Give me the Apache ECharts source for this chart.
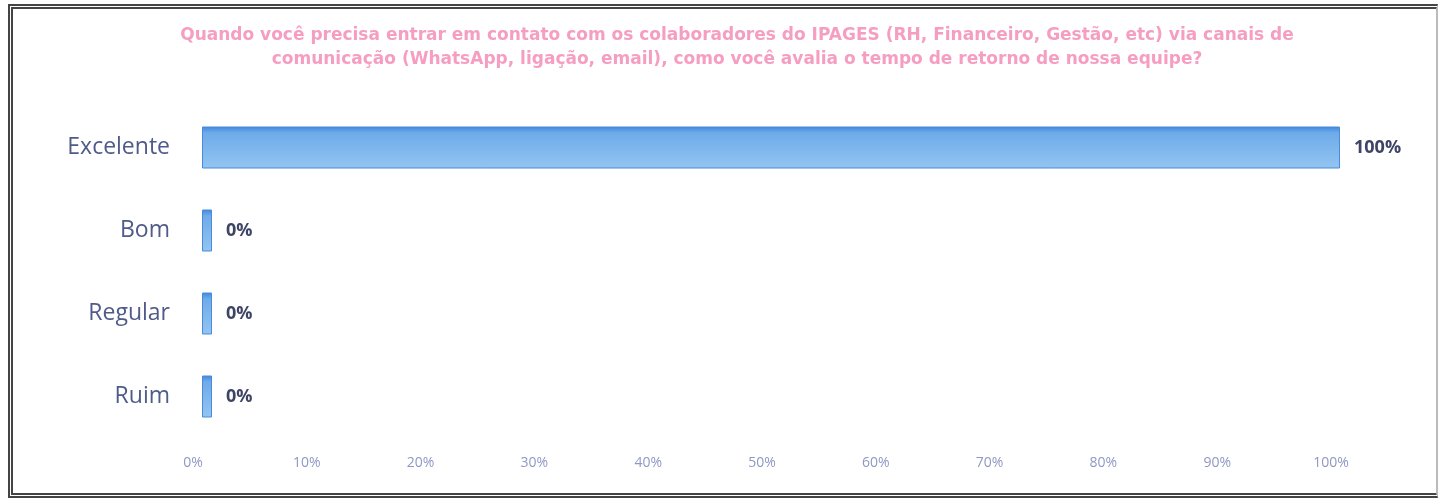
<!DOCTYPE html>
<html><head><meta charset="utf-8">
<script src="https://cdn.jsdelivr.net/npm/echarts@6/dist/echarts.min.js"></script>
<style>
html,body{margin:0;padding:0;background:#fff;}
#c{width:1442px;height:498px;position:absolute;left:0;top:0;}
#frame{position:absolute;left:8px;top:4px;width:1423px;height:484px;border:5px double #444;border-right:2px solid #bbb;pointer-events:none;}
</style></head>
<body>
<div id="c"></div>
<div id="frame"></div>
<script>
const categories = ['Excelente', 'Bom', 'Regular', 'Ruim'];
const values = [100, 0, 0, 0];
const xTicks = [0, 10, 20, 30, 40, 50, 60, 70, 80, 90, 100];
const titleLines = [
  'Quando você precisa entrar em contato com os colaboradores do IPAGES (RH, Financeiro, Gestão, etc) via canais de',
  'comunicação (WhatsApp, ligação, email), como você avalia o tempo de retorno de nossa equipe?'
];

const chart = echarts.init(document.getElementById('c'), null, {renderer: 'canvas'});
chart.setOption({
  backgroundColor: '#fff',
  animation: false,
  title: {
    text: titleLines.join('\n'),
    left: 732, top: 19, textAlign: 'center',
    textStyle: {color: '#f59ec2', fontSize: 17, fontWeight: 'bold', fontFamily: 'DejaVu Sans', lineHeight: 24}
  },
  grid: {left: 202, right: 102, top: 106, bottom: 60, containLabel: false},
  xAxis: {
    type: 'value', min: 0, max: 100, interval: 10,
    axisLine: {show: false}, axisTick: {show: false}, splitLine: {show: false},
    axisLabel: {formatter: v => xTicks.includes(v) ? v + '%' : '', color: '#8f98c4', fontSize: 14,
      margin: 18, fontFamily: 'Open Sans', padding: [0, 18, 0, 0]}
  },
  yAxis: {
    type: 'category', data: categories, inverse: true,
    axisLine: {show: false}, axisTick: {show: false},
    axisLabel: {color: '#4f5b88', fontSize: 23, margin: 32, fontFamily: 'Open Sans'}
  },
  series: [{
    type: 'bar', data: values, barWidth: 42, barMinHeight: 10,
    itemStyle: {
      color: {type: 'linear', x: 0, y: 0, x2: 0, y2: 1, colorStops: [
        {offset: 0, color: '#3f86dc'}, {offset: 0.15, color: '#6fabe9'}, {offset: 1, color: '#92c5f2'}]},
      borderColor: '#4a8ad8', borderWidth: 1
    },
    label: {show: true, position: 'right', distance: 14, formatter: p => p.value + '%',
      color: '#3e4466', fontSize: 18, fontWeight: 'bold', fontFamily: 'Open Sans'}
  }]
});
</script>
</body></html>
